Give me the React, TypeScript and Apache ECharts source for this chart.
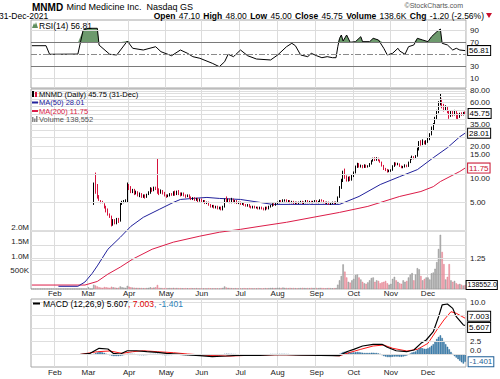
import React, { useEffect, useRef } from "react";
import * as echarts from "echarts";

const FONT = "'Liberation Sans', Arial, sans-serif";
const HOLIDAYS = ["01-18", "02-15", "04-02", "05-31", "07-05", "09-06", "11-25", "12-24"];
const MONTH_NAMES = ["Jan", "Feb", "Mar", "Apr", "May", "Jun", "Jul", "Aug", "Sep", "Oct", "Nov", "Dec"];

function tradingDays(): string[] {
  const out: string[] = [];
  const d = new Date(Date.UTC(2021, 0, 12));
  const end = Date.UTC(2021, 11, 31);
  while (d.getTime() <= end) {
    const wd = d.getUTCDay();
    const key = String(d.getUTCMonth() + 1).padStart(2, "0") + "-" + String(d.getUTCDate()).padStart(2, "0");
    if (wd !== 0 && wd !== 6 && !HOLIDAYS.includes(key)) out.push(key);
    d.setUTCDate(d.getUTCDate() + 1);
  }
  return out;
}
const categories = tradingDays();

type Candle = [number, number, number, number] | null; // open, close, low, high

const janCandles: Candle[] = [
  [0.78, 0.78, 0.78, 0.78], [0.78, 0.78, 0.78, 0.78], [0.78, 0.78, 0.78, 0.78], [0.78, 0.78, 0.78, 0.78],
  [0.78, 0.78, 0.78, 0.78], [0.78, 0.78, 0.78, 0.78], [0.78, 0.78, 0.78, 0.78], [0.78, 0.78, 0.78, 0.78],
  [0.78, 0.78, 0.78, 0.78], [0.69, 0.69, 0.69, 0.69], [0.69, 0.69, 0.69, 0.69], [0.69, 0.69, 0.69, 0.69],
  [0.69, 0.69, 0.69, 0.69],
];
const febCandles: Candle[] = [
  [0.69, 0.69, 0.69, 0.69], [0.69, 0.69, 0.69, 0.69], [0.69, 0.69, 0.69, 0.69], [0.69, 0.69, 0.69, 0.69],
  [0.69, 0.69, 0.69, 0.69], [0.69, 0.69, 0.69, 0.69], [0.69, 0.69, 0.69, 0.69], [0.69, 0.69, 0.69, 0.69],
  [0.69, 0.69, 0.69, 0.69], [0.69, 0.69, 0.69, 0.69], [0.69, 0.69, 0.69, 0.69], [0.69, 0.69, 0.69, 0.69],
  [0.69, 0.69, 0.69, 0.69], [0.69, 0.69, 0.69, 0.69], null, null, null, null, null,
];
const marCandles: Candle[] = [
  [5.6, 5.6, 5.6, 5.6], null, null, [4.9, 8.0, 4.7, 8.2], [9.5, 7.0, 6.2, 10.5], [7.5, 6.0, 5.5, 7.9],
  [6.0, 5.4, 5.2, 6.0], [5.3, 5.1, 4.9, 5.3], [5.1, 5.0, 4.9, 5.2], [4.9, 4.4, 4.3, 4.9], [4.4, 4.0, 3.9, 4.6],
  [4.1, 3.8, 3.6, 4.3], [3.7, 3.6, 3.4, 3.8], [3.5, 3.0, 2.75, 3.6], [3.0, 3.2, 2.8, 3.3], [3.2, 3.0, 2.9, 3.3],
  [3.0, 3.3, 2.9, 3.4], [3.3, 3.1, 3.0, 3.4], [3.2, 4.8, 3.1, 5.0], [4.8, 5.0, 4.7, 5.2], [5.0, 5.2, 4.9, 5.3],
  [5.1, 5.3, 5.0, 5.4], [5.2, 7.8, 5.0, 8.2],
];
const aprCandles: Candle[] = [
  [7.8, 7.2, 6.8, 7.9], [7.3, 6.6, 6.3, 7.5], [6.6, 6.9, 6.3, 7.0], [6.9, 6.3, 6.0, 7.0], [6.3, 6.5, 6.1, 6.7],
  [6.5, 6.0, 5.8, 6.6], [6.0, 6.2, 5.7, 6.4], [6.2, 5.8, 5.6, 6.3], [5.8, 6.0, 5.6, 6.1], [6.0, 5.7, 5.5, 6.1],
  [5.7, 6.1, 5.6, 6.2], [6.1, 6.4, 6.0, 6.6], [6.3, 7.0, 6.2, 7.3], [6.9, 6.8, 6.5, 7.2], [6.8, 7.2, 6.6, 7.4],
  [7.2, 7.0, 6.8, 7.4], [14.0, 6.8, 6.2, 15.0], [6.8, 6.4, 6.0, 7.1], [6.4, 6.7, 6.2, 6.9], [6.7, 6.3, 6.1, 6.8],
  [6.3, 6.0, 5.8, 6.5],
];
const mayCandles: Candle[] = [
  [6.0, 5.8, 5.6, 6.1], [5.8, 6.0, 5.7, 6.1], [5.9, 6.2, 5.8, 6.3], [6.2, 6.1, 5.9, 6.3], [6.0, 6.4, 5.9, 6.6],
  [6.5, 6.1, 5.9, 6.7], [6.1, 6.5, 6.0, 6.7], [6.6, 6.2, 6.0, 6.8], [6.3, 6.0, 5.8, 6.4], [6.0, 6.3, 5.9, 6.4],
  [6.3, 6.0, 5.8, 6.4], [6.0, 5.8, 5.6, 6.1], [5.8, 6.0, 5.7, 6.1], [6.0, 5.7, 5.5, 6.1], [5.7, 5.5, 5.3, 5.8],
  [5.5, 5.6, 5.3, 5.7], [5.6, 5.3, 5.2, 5.7], [5.3, 5.5, 5.2, 5.6], [5.5, 5.2, 5.0, 5.6], [5.2, 5.4, 5.1, 5.5],
];
const junCandles: Candle[] = [
  [5.4, 5.1, 5.0, 5.5], [5.1, 5.2, 5.0, 5.3], [5.2, 4.9, 4.8, 5.3], [4.9, 5.0, 4.8, 5.1], [5.0, 4.7, 4.6, 5.1],
  [4.7, 4.5, 4.4, 4.8], [4.5, 4.6, 4.4, 4.7], [4.6, 4.4, 4.3, 4.7], [4.4, 4.5, 4.3, 4.6], [4.5, 4.3, 4.2, 4.6],
  [4.3, 4.4, 4.2, 4.5], [4.4, 4.2, 4.1, 4.5], [4.2, 4.5, 4.1, 4.6], [4.5, 5.4, 4.4, 5.5], [5.5, 5.2, 5.0, 5.8],
  [5.2, 5.3, 5.0, 5.5], [5.4, 5.0, 4.9, 5.5], [5.0, 5.4, 4.9, 5.6], [5.4, 5.1, 5.0, 5.5], [5.1, 5.2, 4.9, 5.3],
  [5.2, 4.9, 4.8, 5.3], [4.9, 5.0, 4.8, 5.1],
];
const julCandles: Candle[] = [
  [5.0, 4.8, 4.7, 5.1], [4.8, 4.9, 4.7, 5.0], [4.9, 4.7, 4.6, 5.0], [4.7, 4.6, 4.5, 4.8], [4.6, 4.7, 4.5, 4.8],
  [4.7, 4.5, 4.4, 4.8], [4.5, 4.4, 4.3, 4.6], [4.4, 4.5, 4.3, 4.6], [4.5, 4.4, 4.3, 4.6], [4.4, 4.4, 4.3, 4.5],
  [4.4, 4.3, 4.2, 4.5], [4.3, 4.4, 4.2, 4.5], [4.4, 4.3, 4.2, 4.5], [4.3, 4.2, 4.1, 4.4], [4.2, 4.4, 4.1, 4.5],
  [4.4, 4.3, 4.2, 4.5], [4.3, 4.5, 4.2, 4.6], [4.5, 4.6, 4.4, 4.7], [4.6, 4.8, 4.5, 4.9], [4.8, 4.7, 4.6, 4.9],
  [4.7, 4.9, 4.6, 5.0],
];
const augCandles: Candle[] = [
  [4.9, 5.0, 4.8, 5.1], [5.0, 5.2, 4.9, 5.3], [5.2, 5.1, 5.0, 5.3], [5.1, 5.3, 5.0, 5.4], [5.3, 5.3, 5.1, 5.4],
  [5.3, 5.1, 5.0, 5.4], [5.1, 5.2, 5.0, 5.3], [5.2, 5.0, 4.9, 5.3], [5.0, 5.1, 4.9, 5.2], [5.1, 4.9, 4.8, 5.2],
  [4.9, 5.0, 4.8, 5.1], [5.0, 4.9, 4.8, 5.1], [4.9, 5.0, 4.8, 5.1], [5.0, 5.1, 4.9, 5.2], [5.1, 4.9, 4.8, 5.2],
  [4.9, 5.0, 4.8, 5.1], [5.0, 5.2, 4.9, 5.3], [5.2, 5.0, 4.9, 5.3], [5.0, 5.1, 4.9, 5.2], [5.1, 5.0, 4.9, 5.2],
  [5.0, 5.1, 4.9, 5.2], [5.1, 5.2, 5.0, 5.3],
];
const sepCandles: Candle[] = [
  [5.2, 5.0, 4.9, 5.3], [5.0, 5.1, 4.9, 5.2], [5.1, 5.3, 5.0, 5.4], [5.3, 5.2, 5.1, 5.4], [5.2, 5.0, 4.9, 5.3],
  [5.0, 4.9, 4.8, 5.1], [4.9, 5.0, 4.8, 5.1], [5.0, 4.8, 4.7, 5.1], [4.8, 4.9, 4.7, 5.0], [4.9, 5.0, 4.8, 5.1],
  [5.0, 4.9, 4.8, 5.1], [4.9, 5.0, 4.8, 5.1], [5.0, 5.7, 4.9, 5.8], [5.7, 7.2, 5.6, 7.5], [7.3, 8.6, 7.0, 9.0],
  [8.6, 10.5, 8.3, 11.0], [10.8, 9.5, 9.0, 11.6], [9.5, 8.6, 8.4, 9.8], [8.6, 9.2, 8.4, 9.5], [9.2, 8.8, 8.5, 9.6],
  [8.8, 9.6, 8.6, 10.0],
];
const octCandles: Candle[] = [
  [9.6, 10.5, 9.4, 10.8], [10.5, 12.0, 10.3, 12.5], [12.0, 13.0, 11.8, 13.4], [13.0, 12.2, 11.9, 13.3],
  [12.2, 12.5, 11.9, 12.8], [12.5, 12.0, 11.7, 12.7], [12.0, 12.6, 11.8, 12.9], [12.6, 12.1, 11.8, 12.8],
  [12.1, 12.3, 11.9, 12.6], [12.3, 13.0, 12.1, 13.3], [13.0, 14.0, 12.8, 14.3], [14.0, 14.8, 13.8, 15.2],
  [14.8, 14.3, 14.0, 15.4], [14.3, 15.0, 14.1, 15.4], [15.0, 14.2, 13.9, 15.2], [14.2, 13.6, 13.4, 14.5],
  [13.6, 12.5, 12.2, 13.8], [12.5, 11.5, 11.2, 12.7], [11.5, 11.2, 10.9, 11.8], [11.3, 10.8, 10.5, 11.5],
  [10.8, 11.0, 10.6, 11.3],
];
const novCandles: Candle[] = [
  [11.0, 11.1, 10.7, 11.4], [11.1, 12.3, 11.0, 12.6], [12.3, 13.2, 12.1, 13.6], [13.2, 12.8, 12.5, 13.5],
  [12.8, 13.0, 12.6, 13.4], [13.0, 12.3, 12.1, 13.2], [12.3, 11.9, 11.7, 12.5], [11.9, 12.1, 11.7, 12.4],
  [12.1, 12.6, 11.9, 12.9], [12.6, 12.2, 12.0, 12.8], [12.2, 13.5, 12.1, 13.8], [13.5, 14.8, 13.3, 15.2],
  [14.8, 15.5, 14.5, 16.0], [15.5, 14.9, 14.6, 15.8], [14.9, 15.8, 14.7, 16.2], [15.8, 18.5, 15.6, 19.5],
  [18.5, 21.5, 18.2, 23.0], [22.0, 21.0, 20.5, 23.5], [21.0, 22.5, 20.8, 24.0], [22.5, 21.5, 21.2, 23.2],
  [21.5, 22.5, 21.0, 23.5],
];
const decCandles: Candle[] = [
  [22.5, 24.0, 22.0, 25.0], [24.0, 27.0, 23.5, 28.0], [27.0, 31.0, 26.5, 33.0], [31.0, 35.0, 30.0, 36.0],
  [35.0, 40.0, 34.5, 42.0], [40.0, 47.0, 39.5, 50.0], [47.0, 58.0, 46.0, 62.0], [58.0, 66.0, 56.0, 76.0],
  [64.0, 55.0, 52.0, 66.0], [55.0, 50.0, 48.0, 58.0], [50.0, 53.0, 49.0, 56.0], [53.0, 48.0, 46.0, 54.0],
  [48.0, 43.0, 40.0, 49.0], [43.0, 47.0, 42.0, 48.5], [47.0, 44.0, 42.5, 49.0], [44.0, 48.0, 43.5, 50.0],
  [48.0, 44.5, 40.0, 49.0], [44.5, 42.0, 39.0, 46.0], [42.0, 45.5, 41.0, 46.5], [45.5, 44.0, 43.0, 47.0],
  [44.0, 46.95, 43.5, 47.5], [47.1, 45.75, 45.0, 48.0],
];

// volume, thousands of shares
const janVol = [0, 0, 0, 0, 0, 0, 0, 0, 0, 0, 0, 0, 0];
const febVol = [0, 0, 0, 0, 0, 0, 0, 0, 0, 0, 0, 0, 0, 0, 0, 0, 0, 0, 0];
const marVol = [60, 0, 0, 150, 120, 90, 60, 50, 40, 70, 60, 50, 40, 80, 60, 50, 40, 45, 90, 60, 50, 40, 110];
const aprVol = [80, 60, 50, 45, 40, 40, 35, 35, 30, 30, 35, 40, 60, 40, 50, 60, 140, 40, 35, 30, 30];
const mayVol = [30, 30, 35, 30, 40, 30, 35, 30, 30, 25, 25, 30, 25, 25, 30, 25, 25, 30, 25, 20];
const junVol = [25, 20, 25, 20, 30, 25, 20, 25, 20, 25, 20, 30, 40, 90, 50, 40, 35, 30, 25, 30, 25, 20];
const julVol = [25, 20, 30, 25, 20, 30, 25, 20, 25, 20, 30, 25, 20, 25, 30, 25, 30, 35, 40, 30, 35];
const augVol = [40, 45, 35, 50, 40, 35, 30, 40, 30, 35, 30, 25, 30, 35, 40, 35, 30, 35, 30, 40, 35, 30];
const sepVol = [35, 30, 40, 35, 30, 25, 30, 35, 30, 25, 30, 35, 150, 300, 450, 850, 600, 400, 250, 220, 300];
const octVol = [350, 480, 500, 400, 330, 250, 200, 180, 230, 300, 380, 400, 250, 300, 280, 200, 230, 250, 280, 200, 150];
const novVol = [180, 350, 420, 300, 250, 200, 180, 300, 250, 280, 400, 500, 550, 300, 500, 720, 680, 450, 300, 350, 400];
const decVol = [400, 330, 540, 570, 700, 930, 1380, 1870, 1280, 860, 330, 420, 860, 300, 250, 280, 200, 160, 180, 150, 120, 138.552];

// MACD histogram
const janHist = [0, 0, 0, 0, 0, 0, 0, 0, 0, 0, 0, 0, 0];
const febHist = [0, 0, 0, 0, 0, 0, 0, 0, 0, 0, 0, 0, 0, 0, 0, 0, 0, 0, 0];
const marHist = [0, 0, 0, 0.1, 0.25, 0.4, 0.5, 0.5, 0.4, 0.3, 0.15, 0, -0.1, -0.2, -0.3, -0.3, -0.3, -0.3, -0.25, -0.2, -0.1, 0, 0.1];
const aprHist = [0.1, 0.15, 0.1, 0.05, 0, -0.05, -0.1, -0.1, -0.15, -0.1, -0.05, 0, 0.05, 0.05, 0.1, 0.1, 0.15, 0.05, 0, -0.05, -0.1];
const mayHist = [-0.1, -0.1, -0.05, -0.05, 0, 0, 0.05, 0, -0.05, -0.05, -0.1, -0.1, -0.1, -0.1, -0.15, -0.15, -0.1, -0.1, -0.1, -0.1];
const junHist = [-0.1, -0.1, -0.1, -0.15, -0.15, -0.2, -0.2, -0.2, -0.2, -0.15, -0.15, -0.1, -0.05, 0.1, 0.15, 0.15, 0.1, 0.1, 0.05, 0.05, 0, 0];
const julHist = [0, -0.05, -0.05, -0.1, -0.1, -0.1, -0.1, -0.1, -0.1, -0.1, -0.05, -0.05, -0.05, -0.05, 0, 0, 0, 0.05, 0.05, 0.05, 0.05];
const augHist = [0.05, 0.1, 0.1, 0.1, 0.1, 0.05, 0.05, 0, 0, 0, -0.05, -0.05, -0.05, 0, 0, 0, 0, 0, 0, 0, 0, 0];
const sepHist = [0, 0, 0, 0, -0.05, -0.05, -0.05, -0.1, -0.1, -0.1, -0.1, -0.05, 0, 0.1, 0.3, 0.5, 0.55, 0.5, 0.45, 0.4, 0.4];
const octHist = [0.4, 0.45, 0.5, 0.45, 0.4, 0.35, 0.3, 0.3, 0.3, 0.3, 0.35, 0.35, 0.3, 0.3, 0.2, 0.1, -0.1, -0.3, -0.4, -0.5, -0.5];
const novHist = [-0.5, -0.45, -0.4, -0.4, -0.4, -0.45, -0.45, -0.4, -0.3, -0.2, 0, 0.2, 0.4, 0.5, 0.6, 0.9, 1.2, 1.3, 1.2, 1.1, 1.1];
const decHist = [1.2, 1.4, 1.7, 2.0, 2.5, 3.0, 3.4, 3.7, 3.2, 2.6, 2.0, 1.5, 1.0, 0.5, 0.1, -0.3, -0.6, -0.9, -1.2, -1.5, -1.75, -1.401];

// Indicator lines: [MM-DD, value]
const ma50Points: [string, number][] = [
  ["02-03", 0.62], ["02-19", 0.62], ["02-25", 0.69], ["03-03", 0.85], ["03-08", 1.03], ["03-16", 1.56],
  ["03-25", 2.1], ["04-05", 2.76], ["04-14", 3.45], ["04-27", 4.2], ["05-07", 5.0], ["05-13", 5.38],
  ["05-24", 5.52], ["06-04", 5.66], ["06-15", 5.52], ["07-01", 5.38], ["07-19", 5.0], ["07-28", 4.76],
  ["08-11", 4.76], ["08-26", 4.76], ["09-21", 4.76], ["10-06", 5.8], ["10-22", 7.8], ["11-08", 9.5],
  ["11-22", 11.3], ["12-06", 15.2], ["12-16", 19.5], ["12-28", 25.6], ["12-31", 28.01],
];
const ma200Points: [string, number][] = [
  ["01-12", 0.64], ["02-25", 0.64], ["03-08", 0.7], ["03-16", 0.84], ["03-25", 1.0], ["04-06", 1.22],
  ["04-21", 1.56], ["05-07", 1.86], ["05-28", 2.16], ["06-15", 2.38], ["07-01", 2.56], ["07-19", 2.76],
  ["08-09", 3.05], ["08-30", 3.45], ["09-21", 3.9], ["10-13", 4.53], ["11-08", 5.8], ["11-24", 6.56],
  ["12-06", 7.4], ["12-10", 8.4], ["12-28", 10.8], ["12-31", 11.75],
];
const rsiPoints: [string, number][] = [
  ["01-12", 65], ["01-25", 65], ["01-27", 50.7], ["02-19", 51], ["02-24", 91], ["03-01", 94], ["03-08", 94],
  ["03-09", 66], ["03-17", 50.7], ["03-23", 49.5], ["03-31", 72.8], ["04-06", 60.7], ["04-14", 57.8],
  ["04-23", 63.3], ["04-28", 55], ["05-06", 48.3], ["05-13", 57.8], ["05-19", 52.3], ["05-24", 46.7],
  ["05-28", 44], ["06-09", 35.7], ["06-15", 30], ["06-18", 38.3], ["06-22", 50.7], ["06-25", 46.7],
  ["07-01", 57.8], ["07-08", 48.3], ["07-15", 42.8], ["07-27", 41.2], ["08-02", 49.5], ["08-09", 63.3],
  ["08-12", 69], ["08-16", 65], ["08-19", 49.5], ["08-25", 46.7], ["08-27", 52.3], ["09-01", 48.3],
  ["09-07", 45], ["09-10", 46.7], ["09-15", 45], ["09-17", 45], ["09-20", 63.3], ["09-21", 77.3],
  ["09-22", 82.8], ["09-23", 72.8], ["09-27", 82.8], ["09-29", 70.7], ["10-04", 71.7], ["10-07", 80],
  ["10-08", 71.7], ["10-14", 71.7], ["10-18", 77.3], ["10-21", 74.5], ["10-26", 60.7], ["10-28", 49.5],
  ["11-02", 52.3], ["11-05", 60.7], ["11-08", 56.2], ["11-11", 50.7], ["11-15", 63.3], ["11-18", 66.2],
  ["11-22", 77.3], ["11-26", 74.5], ["12-01", 71.7], ["12-03", 80], ["12-08", 88.3], ["12-10", 92.8],
  ["12-13", 69], ["12-16", 66.2], ["12-21", 57.8], ["12-23", 60.7], ["12-28", 57.8], ["12-31", 56.81],
];
const macdPoints: [string, number][] = [
  ["01-12", 0], ["02-22", 0], ["03-02", 0.23], ["03-09", 1.2], ["03-16", 1.06], ["03-19", 0.23],
  ["03-25", 0.1], ["03-31", 0.73], ["04-08", 0.73], ["04-16", 0.54], ["04-26", 0.42], ["05-03", 0.23],
  ["05-13", 0.04], ["05-28", -0.23], ["06-09", -0.42], ["06-21", -0.29], ["07-01", -0.1], ["07-19", -0.15],
  ["08-03", 0], ["08-19", -0.1], ["09-03", -0.15], ["09-17", -0.2], ["09-21", -0.2], ["09-27", 0.54],
  ["10-01", 1.0], ["10-08", 1.64], ["10-18", 1.97], ["10-25", 1.97], ["10-28", 1.39], ["11-04", 0.73],
  ["11-12", 0.54], ["11-18", 0.87], ["11-24", 2.16], ["11-30", 2.8], ["12-06", 4.4], ["12-09", 7.3],
  ["12-13", 9.56], ["12-16", 9.75], ["12-21", 8.9], ["12-23", 7.3], ["12-30", 5.7], ["12-31", 5.607],
];
const signalPoints: [string, number][] = [
  ["01-12", 0], ["02-22", 0], ["03-08", 0.54], ["03-17", 0.68], ["03-26", 0.23], ["04-06", 0.54],
  ["04-14", 0.73], ["04-26", 0.54], ["05-07", 0.35], ["05-19", 0.1], ["06-08", -0.2], ["06-23", -0.3],
  ["07-09", -0.15], ["08-03", -0.05], ["09-03", -0.1], ["09-21", -0.25], ["09-29", 0.42], ["10-07", 1.0],
  ["10-18", 1.64], ["10-26", 1.83], ["11-02", 1.2], ["11-12", 0.68], ["11-22", 1.0], ["12-01", 2.16],
  ["12-08", 4.73], ["12-14", 6.66], ["12-20", 8.26], ["12-23", 7.95], ["12-31", 7.003],
];

const priceGridValues = [1.25, 2.5, 5, 10, 15, 20, 25, 30, 35, 40, 45, 50, 55, 60, 65, 70, 75, 80];
const priceLabelValues = [1.25, 5, 10, 15, 20, 35, 60, 80];
const rsiLevels = [10, 30, 50, 70, 90];
const rsiLabelLevels = [10, 30, 70, 90];
const macdLevels = [0, 2.5, 5, 7.5, 10];
const macdLabelLevels = [0, 2.5, 10];

const candles: Candle[] = [
  ...janCandles, ...febCandles, ...marCandles, ...aprCandles, ...mayCandles, ...junCandles,
  ...julCandles, ...augCandles, ...sepCandles, ...octCandles, ...novCandles, ...decCandles,
];
const volumes = [
  ...janVol, ...febVol, ...marVol, ...aprVol, ...mayVol, ...junVol,
  ...julVol, ...augVol, ...sepVol, ...octVol, ...novVol, ...decVol,
];
const hist = [
  ...janHist, ...febHist, ...marHist, ...aprHist, ...mayHist, ...junHist,
  ...julHist, ...augHist, ...sepHist, ...octHist, ...novHist, ...decHist,
];

const isMonthStart = (i: number) =>
  i > 0 && i < categories.length && categories[i].slice(0, 2) !== categories[i - 1].slice(0, 2);
const monthLabel = (v: string) => MONTH_NAMES[parseInt(v.slice(0, 2), 10) - 1];

function buildOption(): any {
  const last = categories[categories.length - 1];
  const L = 31, W = 435;
  const gridLine = { color: "#dcdcdc", width: 1 };
  const boxLabel = (txt: string, color: string, size = 8) => ({
    show: true, formatter: txt, fontSize: size, color, fontFamily: FONT,
    backgroundColor: "#fff", borderColor: color, borderWidth: 1, padding: [1, 1, 0, 1], distance: 3,
  });
  const xBase = (gridIndex: number, labels: boolean, split: boolean, margin = 1) => ({
    type: "category", gridIndex, data: categories, boundaryGap: true,
    axisLine: { show: false }, axisTick: { show: false },
    axisLabel: labels
      ? { show: true, interval: (i: number) => isMonthStart(i), formatter: monthLabel, fontSize: 8, color: "#222", fontFamily: FONT, margin }
      : { show: false },
    splitLine: split ? { show: true, interval: (i: number) => isMonthStart(i), lineStyle: gridLine } : { show: false },
  });
  const hiddenY = (gridIndex: number, extra: any) => ({
    gridIndex, axisLabel: { show: false }, axisLine: { show: false }, axisTick: { show: false },
    splitLine: { show: false }, ...extra,
  });
  const candleData = candles.map((c) => (c ? c : ["-", "-", "-", "-"]));
  const volData = volumes.map((v, i) => {
    const c = candles[i];
    const up = !c || c[1] >= c[0];
    return {
      value: v,
      itemStyle: up ? { color: "#b8b8b8", borderColor: "#8c8c8c", borderWidth: 0.5 } : { color: "#f3a9b3", borderColor: "#e07888", borderWidth: 0.5 },
    };
  });
  const rsiBase = rsiPoints.map(([d]) => [d, 70]);
  const rsiExcess = rsiPoints.map(([d, v]) => [d, Math.max(v - 70, 0)]);
  const lastVal = (pts: [string, number][]) => pts[pts.length - 1][1];
  const lastCandle = candles[candles.length - 1] as [number, number, number, number];
  const lastVol = volumes[volumes.length - 1];
  const txt = (x: number, y: number, text: string, fill = "#000", extra: any = {}) => ({
    type: "text", x, y, z: 100,
    style: { text, fontSize: 8.5, fill, fontFamily: FONT, verticalAlign: "middle", ...extra },
  });
  const leg = (x: number, y: number, text: string, fill = "#000") =>
    txt(x, y, text, fill, { fontSize: 7.5, lineHeight: 7 });
  // labels nudged off the last-value boxes that sit on top of them
  const priceLabelAlign: Record<number, string> = { 10: "top", 15: "bottom" };
  const macdLabelAlign: Record<number, string> = { 0: "bottom" };

  return {
    animation: false,
    textStyle: { fontFamily: FONT },
    grid: [
      { left: L, width: W, top: 20, height: 68, show: true, borderColor: "#a6a6a6", borderWidth: 1, backgroundColor: "transparent" },
      { left: L, width: W, top: 89, height: 200, show: true, borderColor: "#a6a6a6", borderWidth: 1, backgroundColor: "transparent" },
      { left: L, width: W, top: 231, height: 58 },
      { left: L, width: W, top: 299, height: 68, show: true, borderColor: "#a6a6a6", borderWidth: 1, backgroundColor: "transparent" },
    ],
    xAxis: [xBase(0, false, true), xBase(1, true, true, 0), xBase(2, false, false), xBase(3, true, true, 1)],
    yAxis: [
      hiddenY(0, { type: "value", min: -5.5, max: 107.8 }),
      hiddenY(1, { type: "log", logBase: 10, min: 0.58, max: 84 }),
      {
        type: "value", gridIndex: 2, min: 0, max: 2000, interval: 500, position: "left",
        axisLine: { show: false }, axisTick: { show: false },
        axisLabel: {
          fontSize: 8, color: "#222", fontFamily: FONT, margin: 2, verticalAlign: "bottom",
          formatter: (v: number) => (v === 0 ? "" : v >= 1000 ? (v / 1000).toFixed(1) + "M" : v + "K"),
        },
        splitLine: { show: true, lineStyle: gridLine },
      },
      hiddenY(3, { type: "value", min: -2.41, max: 10.71 }),
    ],
    series: [
      // RSI panel
      {
        type: "line", xAxisIndex: 0, yAxisIndex: 0, data: [], silent: true, z: 1,
        markLine: {
          silent: true, symbol: ["none", "none"],
          data: rsiLevels.map((v) => ({
            yAxis: v,
            lineStyle: v === 50 ? { color: "#8a8a8a", type: [6, 2, 2, 2], width: 1 } : v === 30 || v === 70 ? { color: "#7a7a7a", type: "solid", width: 1 } : { color: "#dcdcdc", type: "solid", width: 1 },
            label: { show: rsiLabelLevels.includes(v), position: "end", formatter: String(v), fontSize: 8, color: "#222", fontFamily: FONT, distance: 4 },
          })),
        },
      },
      {
        type: "line", xAxisIndex: 0, yAxisIndex: 0, data: rsiBase, stack: "rsi", showSymbol: false,
        lineStyle: { width: 0, opacity: 0 }, silent: true, z: 2,
      },
      {
        type: "line", xAxisIndex: 0, yAxisIndex: 0, data: rsiExcess, stack: "rsi", showSymbol: false,
        lineStyle: { width: 0, opacity: 0 }, areaStyle: { color: "#6d9a6d", opacity: 1 }, silent: true, z: 2,
      },
      {
        type: "line", xAxisIndex: 0, yAxisIndex: 0, data: rsiPoints, showSymbol: false, z: 3,
        lineStyle: { color: "#000", width: 1 },
        endLabel: boxLabel(lastVal(rsiPoints).toFixed(2), "#000"),
      },
      // price panel
      {
        type: "line", xAxisIndex: 1, yAxisIndex: 1, data: [], silent: true, z: 1,
        markLine: {
          silent: true, symbol: ["none", "none"],
          lineStyle: { color: "#dedede", type: "solid", width: 1 },
          data: priceGridValues.map((v) => ({
            yAxis: v,
            label: {
              show: priceLabelValues.includes(v), position: "end", formatter: v.toFixed(2), fontSize: 8, color: "#222",
              fontFamily: FONT, distance: 4, ...(priceLabelAlign[v] ? { verticalAlign: priceLabelAlign[v] } : {}),
            },
          })),
        },
      },
      {
        type: "bar", xAxisIndex: 2, yAxisIndex: 2, data: volData, barCategoryGap: "20%", z: 2,
        markPoint: {
          symbol: "rect", symbolSize: 1, itemStyle: { color: "rgba(0,0,0,0)" },
          data: [{ coord: [last, lastVol], label: { ...boxLabel((lastVol * 1000).toFixed(1), "#000", 7), position: "right", distance: 1, padding: [1, 0, 0, 1] } }],
        },
      },
      {
        type: "line", xAxisIndex: 1, yAxisIndex: 1, data: ma200Points, showSymbol: false, z: 3,
        lineStyle: { color: "#dc1c48", width: 1 },
        endLabel: boxLabel(lastVal(ma200Points).toFixed(2), "#c8102e"),
      },
      {
        type: "line", xAxisIndex: 1, yAxisIndex: 1, data: ma50Points, showSymbol: false, z: 3,
        lineStyle: { color: "#22229c", width: 1 },
        endLabel: boxLabel(lastVal(ma50Points).toFixed(2), "#000"),
      },
      {
        type: "candlestick", xAxisIndex: 1, yAxisIndex: 1, data: candleData, barMaxWidth: 2, z: 4,
        itemStyle: { color: "#000", color0: "#d6123c", borderColor: "#000", borderColor0: "#d6123c", borderWidth: 1 },
        markPoint: {
          symbol: "rect", symbolSize: 1, itemStyle: { color: "rgba(0,0,0,0)" },
          data: [{ coord: [last, lastCandle[1]], label: { ...boxLabel(lastCandle[1].toFixed(2), "#000"), position: "right" } }],
        },
      },
      // MACD panel
      {
        type: "line", xAxisIndex: 3, yAxisIndex: 3, data: [], silent: true, z: 1,
        markLine: {
          silent: true, symbol: ["none", "none"],
          lineStyle: { color: "#dedede", type: "solid", width: 1 },
          data: macdLevels.map((v) => ({
            yAxis: v,
            label: {
              show: macdLabelLevels.includes(v), position: "end", formatter: v.toFixed(1), fontSize: 8, color: "#222",
              fontFamily: FONT, distance: 4, ...(macdLabelAlign[v] ? { verticalAlign: macdLabelAlign[v] } : {}),
            },
          })),
        },
      },
      {
        type: "bar", xAxisIndex: 3, yAxisIndex: 3, data: hist, barCategoryGap: "20%", z: 2,
        itemStyle: { color: "#3f88bd", borderColor: "#24628f", borderWidth: 0.5 },
        markPoint: {
          symbol: "rect", symbolSize: 1, itemStyle: { color: "rgba(0,0,0,0)" },
          data: [{ coord: [last, hist[hist.length - 1]], label: { ...boxLabel(hist[hist.length - 1].toFixed(3), "#1f5f96"), position: "right" } }],
        },
      },
      {
        type: "line", xAxisIndex: 3, yAxisIndex: 3, data: signalPoints, showSymbol: false, z: 3,
        lineStyle: { color: "#ff1a1a", width: 1 },
        endLabel: { ...boxLabel(lastVal(signalPoints).toFixed(3), "#000"), offset: [0, -2] },
      },
      {
        type: "line", xAxisIndex: 3, yAxisIndex: 3, data: macdPoints, showSymbol: false, z: 4,
        lineStyle: { color: "#000", width: 1.2 },
        endLabel: { ...boxLabel(lastVal(macdPoints).toFixed(3), "#000"), offset: [0, 2] },
      },
    ],
    graphic: [
      {
        type: "text", x: 32, y: 7, z: 100,
        style: {
          text: "{b|MNMD} {n|Mind Medicine Inc.  Nasdaq GS}", verticalAlign: "middle", fill: "#000",
          rich: { b: { fontWeight: "bold", fontSize: 10, fontFamily: FONT }, n: { fontSize: 9, fontFamily: FONT } },
        },
      },
      txt(463, 5, "©StockCharts.com", "#555", { fontSize: 7, align: "right" }),
      txt(-1, 16, "31-Dec-2021"),
      {
        type: "text", x: 484, y: 16, z: 100,
        style: {
          text: "{b|Open} {n|47.10} {b|High} {n|48.00} {b|Low} {n|45.00} {b|Close} {n|45.75} {b|Volume} {n|138.6K} {b|Chg} {n|-1.20 (-2.56%)}",
          align: "right", verticalAlign: "middle", fill: "#000",
          rich: { b: { fontWeight: "bold", fontSize: 8.5, fontFamily: FONT }, n: { fontSize: 8.5, fontFamily: FONT } },
        },
      },
      { type: "polygon", z: 100, shape: { points: [[486, 13], [492, 13], [489, 18]] }, style: { fill: "#c8102e" } },
      // RSI legend
      { type: "polygon", z: 100, shape: { points: [[32, 28], [34, 23], [35, 25], [36, 22], [38, 28]] }, style: { fill: "#5f8f5f" } },
      txt(39, 25.5, "RSI(14) 56.81"),
      // Price legend
      { type: "rect", z: 100, shape: { x: 32, y: 91, width: 2, height: 6 }, style: { fill: "#000" } },
      { type: "rect", z: 100, shape: { x: 35, y: 92, width: 2, height: 5 }, style: { fill: "#d6123c" } },
      leg(39, 94, "MNMD (Daily) 45.75 (31-Dec)"),
      { type: "line", z: 100, shape: { x1: 32, y1: 102.5, x2: 38, y2: 102.5 }, style: { stroke: "#22229c", lineWidth: 2 } },
      leg(39, 102.5, "MA(50) 28.01", "#22229c"),
      { type: "line", z: 100, shape: { x1: 32, y1: 111, x2: 38, y2: 111 }, style: { stroke: "#dc1c48", lineWidth: 2 } },
      leg(39, 111, "MA(200) 11.75", "#dc1c48"),
      { type: "rect", z: 100, shape: { x: 32, y: 117, width: 1.5, height: 5 }, style: { fill: "#888" } },
      { type: "rect", z: 100, shape: { x: 34, y: 118.5, width: 1.5, height: 3.5 }, style: { fill: "#888" } },
      { type: "rect", z: 100, shape: { x: 36, y: 116, width: 1.5, height: 6 }, style: { fill: "#888" } },
      leg(39, 119.5, "Volume 138,552", "#555"),
      // MACD legend
      { type: "line", z: 100, shape: { x1: 33, y1: 303.5, x2: 40, y2: 303.5 }, style: { stroke: "#000", lineWidth: 2 } },
      {
        type: "text", x: 43, y: 303.5, z: 100,
        style: {
          text: "{k|MACD (12,26,9) 5.607}{r|, 7.003}{b|, -1.401}", verticalAlign: "middle",
          rich: {
            k: { fontSize: 8.5, fill: "#000", fontFamily: FONT },
            r: { fontSize: 8.5, fill: "#e00000", fontFamily: FONT },
            b: { fontSize: 8.5, fill: "#2d7fb8", fontFamily: FONT },
          },
        },
      },
    ],
  };
}

export default function App() {
  const ref = useRef<HTMLDivElement>(null);
  useEffect(() => {
    if (!ref.current) return;
    const chart = echarts.init(ref.current, null, { renderer: "svg" });
    chart.setOption(buildOption());
    return () => chart.dispose();
  }, []);
  return (
    <div
      ref={ref}
      style={{ position: "fixed", left: 0, top: 0, width: 500, height: 379, background: "#fff" }}
    />
  );
}
